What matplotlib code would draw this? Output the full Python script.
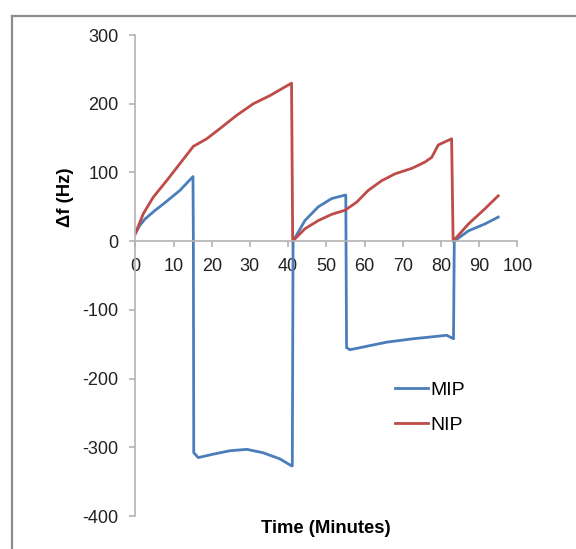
import matplotlib
matplotlib.use("Agg")
import matplotlib.pyplot as plt
from matplotlib.lines import Line2D

plt.rcParams["font.family"] = ["Liberation Sans", "DejaVu Sans"]
plt.rcParams["axes.unicode_minus"] = False  # Excel風のハイフン

# ── データ ───────────────────────────────────
mip_time = [0, 1.2, 2.5, 5.0, 8.0, 11.7, 15.1, 15.2, 15.3, 16.5, 20.4, 24.8, 29.2, 33.5, 37.9, 40.9, 41.1,
            41.3, 44.4, 47.9, 51.4, 54.9, 55.1, 55.3, 56.2, 59.7, 65.8, 72.8, 79.8, 81.5, 83.3,
            83.5, 87.2, 91.5, 95.0]
mip_df = [11, 23, 32, 44, 57, 74, 94, 0, -308, -315, -310, -305, -303, -308, -317, -327, -327,
          0, 30, 50, 62, 67, 67, -155, -158, -154, -147, -142, -138, -137, -142,
          0, 15, 25, 35]

nip_time = [0, 2.1, 4.7, 8.2, 11.7, 15.2, 18.7, 22.2, 26.5, 30.9, 35.3, 40.9, 41.2,
            44.4, 47.9, 51.4, 54.9, 58.0, 61.0, 64.5, 68.0, 72.4, 75.8, 77.6, 79.3, 82.8, 83.2,
            87.2, 91.5, 95.0]
nip_df = [11, 40, 64, 88, 113, 138, 149, 164, 183, 200, 212, 230, 0,
          18, 30, 39, 45, 57, 74, 88, 98, 106, 115, 122, 140, 149, 0,
          25, 47, 66]

x_ticks = [0, 10, 20, 30, 40, 50, 60, 70, 80, 90, 100]
y_ticks = [-400, -300, -200, -100, 0, 100, 200, 300]

# ── 描画 ──────────────────────────────────────────────
fig = plt.figure(figsize=(5.76, 5.49), dpi=100)
ax = fig.add_axes([0.2349, 0.0601, 0.6632, 0.8761])

ax.plot(mip_time, mip_df, color="#4a7ebb", linewidth=2.0, label="MIP")
ax.plot(nip_time, nip_df, color="#be4b48", linewidth=2.0, label="NIP")

ax.set_xlim(0, 100)
ax.set_ylim(-400, 300)
ax.set_xticks(x_ticks)
ax.set_yticks(y_ticks)

# 軸線: x軸は y=0 の位置
ax.spines["top"].set_visible(False)
ax.spines["right"].set_visible(False)
ax.spines["bottom"].set_position(("data", 0))
for s in ("left", "bottom"):
    ax.spines[s].set_color("#b3b3b3")
    ax.spines[s].set_linewidth(1.2)
ax.tick_params(axis="both", colors="#b3b3b3", labelcolor="#222222",
               labelsize=13, length=4, width=1.2)
ax.tick_params(axis="x", pad=8)
ax.tick_params(axis="y", pad=8)

ax.set_xlabel("Time (Minutes)", fontsize=13.3, fontweight="bold")
ax.xaxis.set_label_coords(0.5, -0.025)
ax.xaxis.label.set_va("center")
ax.set_ylabel("\u0394f (Hz)", fontsize=13.3, fontweight="bold")
ax.yaxis.set_label_coords(-0.183, 0.663)
ax.yaxis.label.set_va("center")

ax.legend(loc="center left", bbox_to_anchor=(0.635, 0.225), frameon=False,
          fontsize=14, handlelength=1.7, handletextpad=0.1, labelspacing=0.88)

# 外枠（左と上）
fig.add_artist(Line2D([0.0205, 0.0205], [0, 0.971], color="#8c8c8c", linewidth=1.6))
fig.add_artist(Line2D([0.0205, 1.0], [0.971, 0.971], color="#8c8c8c", linewidth=1.6))

fig.savefig("out.png", dpi=100)
